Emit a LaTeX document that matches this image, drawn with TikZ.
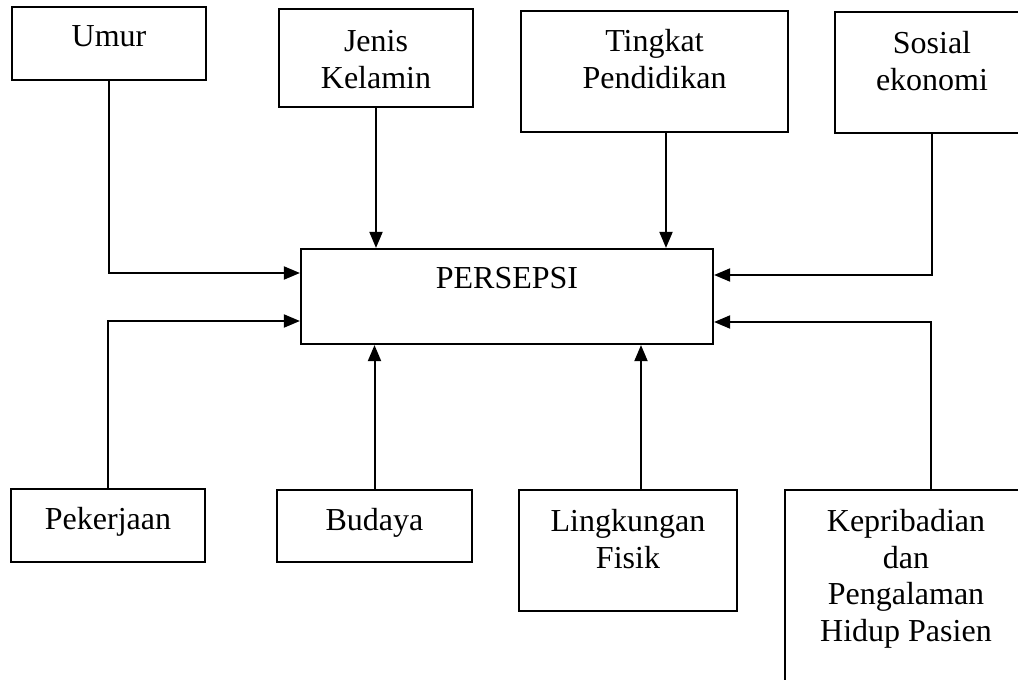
\documentclass[tikz,border=0pt]{standalone}
\usepackage{fontspec}
\setmainfont{Liberation Serif}
\usetikzlibrary{arrows.meta}
\begin{document}
\begin{tikzpicture}[x=1pt,y=-1pt,
  box/.style={draw, line width=2.2pt, inner sep=0pt, rectangle},
  lbl/.style={anchor=north, inner sep=0pt, align=center, font=\fontsize{32}{36.8}\selectfont},
  arr/.style={line width=2pt, -{Triangle[length=16pt,width=13pt]}}]
\path[use as bounding box] (0,0) rectangle (1018,680);
\clip (0,0) rectangle (1018,680);
% boxes
\node[box, minimum width=194pt, minimum height=73pt] (umur) at (109,43.5) {};
\node[box, minimum width=194pt, minimum height=98pt] (jenis) at (376,58) {};
\node[box, minimum width=267pt, minimum height=121pt] (tingkat) at (654.5,71.5) {};
\node[box, minimum width=194pt, minimum height=121pt] (sosial) at (932,72.5) {};
\node[box, minimum width=412pt, minimum height=95pt] (persepsi) at (507,296.5) {};
\node[box, minimum width=194pt, minimum height=73pt] (pekerjaan) at (108,525.5) {};
\node[box, minimum width=195pt, minimum height=72pt] (budaya) at (374.5,526) {};
\node[box, minimum width=218pt, minimum height=121pt] (lingkungan) at (628,550.5) {};
\node[box, minimum width=242pt, minimum height=210pt] (kepribadian) at (906,595) {};
% labels
\node[lbl] (umurT) at ([yshift=-19pt]umur.north) {Umur};
\node[lbl] (jenisT) at ([yshift=-22pt]jenis.north) {Jenis\\Kelamin};
\node[lbl] (tingkatT) at ([yshift=-19pt]tingkat.north) {Tingkat\\Pendidikan};
\node[lbl] (sosialT) at ([yshift=-20pt]sosial.north) {Sosial\\ekonomi};
\node[lbl] (persepsiT) at ([yshift=-19pt]persepsi.north) {PERSEPSI};
\node[lbl] (pekerjaanT) at ([yshift=-19pt]pekerjaan.north) {Pekerjaan};
\node[lbl] (budayaT) at ([yshift=-19pt]budaya.north) {Budaya};
\node[lbl] (lingkunganT) at ([yshift=-20pt]lingkungan.north) {Lingkungan\\Fisik};
\node[lbl] (kepribadianT) at ([yshift=-20pt]kepribadian.north) {Kepribadian\\dan\\Pengalaman\\Hidup Pasien};
% connectors
\draw[arr] (umur.south) |- ([yshift=23.5pt]persepsi.west);
\draw[arr] (pekerjaan.north) |- ([yshift=-24.5pt]persepsi.west);
\draw[arr] (jenis.south) -- (jenis.south |- persepsi.north);
\draw[arr] ([xshift=11.5pt]tingkat.south) -- ([xshift=11.5pt]tingkat.south |- persepsi.north);
\draw[arr] (sosial.south) |- ([yshift=21.5pt]persepsi.east);
\draw[arr] ([xshift=25pt]kepribadian.north) |- ([yshift=-25.5pt]persepsi.east);
\draw[arr] (budaya.north) -- (budaya.north |- persepsi.south);
\draw[arr] ([xshift=13pt]lingkungan.north) -- ([xshift=13pt]lingkungan.north |- persepsi.south);
\end{tikzpicture}
\end{document}
